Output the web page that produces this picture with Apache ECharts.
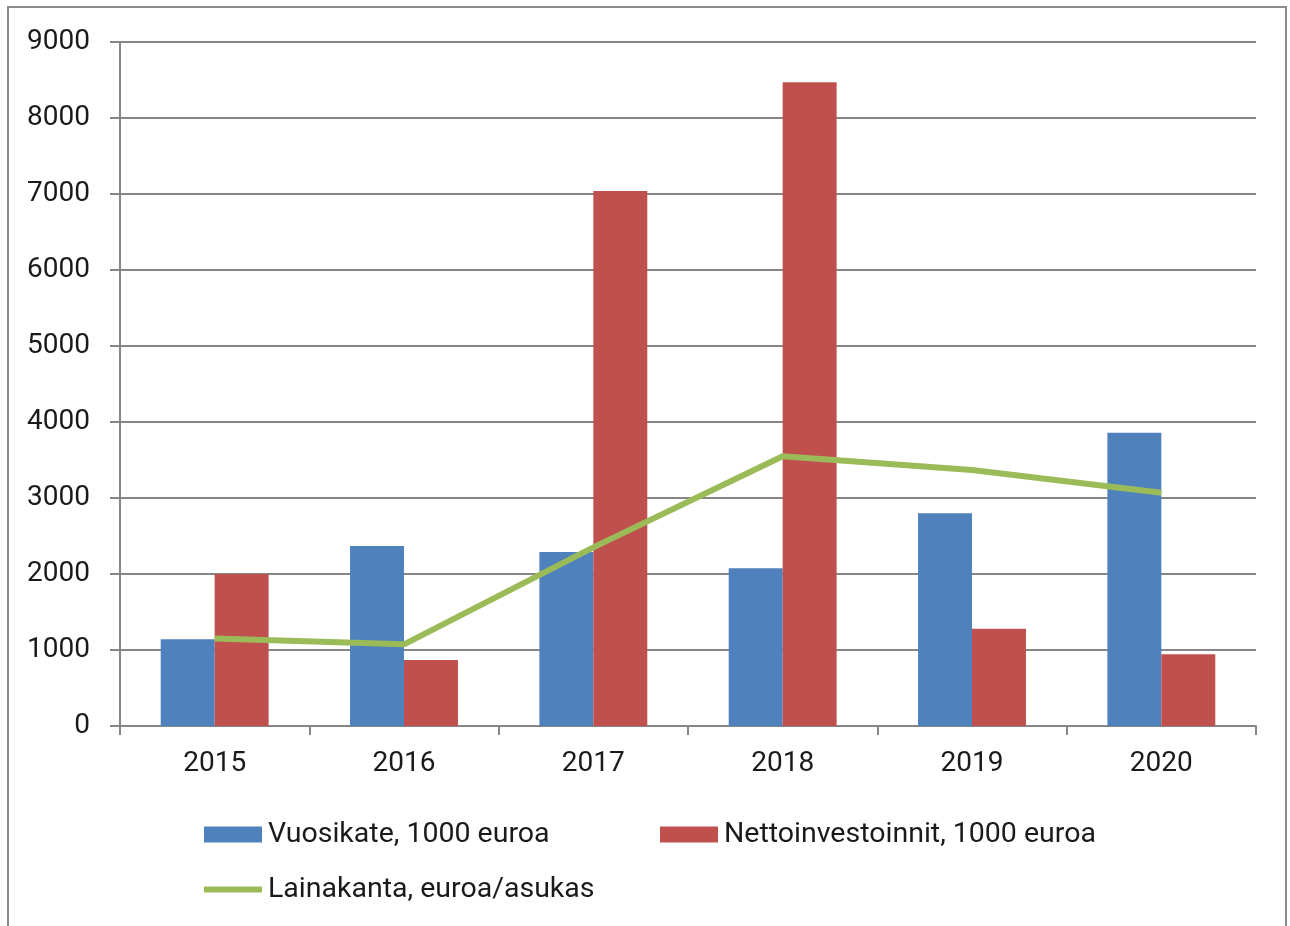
<!DOCTYPE html>
<html>
<head>
<meta charset="utf-8">
<script src="https://cdn.jsdelivr.net/npm/echarts@6/dist/echarts.min.js"></script>
<style>
html,body{margin:0;padding:0;background:#fff;}
#chart{width:1290px;height:926px;}
</style>
</head>
<body>
<div id="chart"></div>
<script>
const categories = ['2015', '2016', '2017', '2018', '2019', '2020'];
const vuosikate = [1140, 2370, 2290, 2075, 2800, 3860];
const nettoinvestoinnit = [2000, 870, 7040, 8470, 1280, 945];
const lainakanta = [1150, 1075, 2350, 3550, 3368, 3070];
const seriesNames = ['Vuosikate, 1000 euroa', 'Nettoinvestoinnit, 1000 euroa', 'Lainakanta, euroa/asukas'];

const FONT = 'Roboto';
const TXT = '#1a1a1a';
const GRID_GRAY = '#868686';

const chart = echarts.init(document.getElementById('chart'), null, {renderer: 'canvas'});
const legendText = {fontFamily: FONT, fontSize: 28.5, color: TXT, padding: [0, 0, 0, 1]};

chart.setOption({
  animation: false,
  backgroundColor: '#ffffff',
  graphic: [{
    type: 'rect',
    shape: {x: 8, y: 7, width: 1278, height: 940},
    style: {fill: 'none', stroke: '#8c8c8c', lineWidth: 2},
    silent: true
  }],
  grid: {left: 120, right: 34, top: 42, bottom: 200, containLabel: false},
  legend: [
    {data: [seriesNames[0]], left: 204, top: 820, padding: 0, itemWidth: 58, itemHeight: 16, itemGap: 0, textStyle: legendText, icon: 'rect'},
    {data: [seriesNames[1]], left: 660, top: 820, padding: 0, itemWidth: 58, itemHeight: 16, itemGap: 0, textStyle: legendText, icon: 'rect'},
    {data: [{name: seriesNames[2], icon: 'rect'}], left: 204, top: 875, padding: 0, itemWidth: 58, itemHeight: 6, itemGap: 0, textStyle: legendText}
  ],
  xAxis: {
    type: 'category',
    data: categories,
    boundaryGap: true,
    axisLine: {show: true, lineStyle: {color: GRID_GRAY, width: 2}},
    axisTick: {show: true, length: 9, lineStyle: {color: GRID_GRAY, width: 2}},
    axisLabel: {fontFamily: FONT, fontSize: 28, color: TXT, margin: 24}
  },
  yAxis: {
    type: 'value',
    min: 0,
    max: 9000,
    interval: 1000,
    axisLine: {show: true, lineStyle: {color: GRID_GRAY, width: 2}},
    axisTick: {show: true, length: 10, lineStyle: {color: GRID_GRAY, width: 2}},
    splitLine: {show: true, lineStyle: {color: GRID_GRAY, width: 2}},
    axisLabel: {fontFamily: FONT, fontSize: 28, color: TXT, margin: 30, formatter: v => String(v)}
  },
  series: [
    {
      name: seriesNames[0], type: 'bar', data: vuosikate,
      itemStyle: {color: '#4F81BD'},
      barGap: '0%', barCategoryGap: '43%'
    },
    {
      name: seriesNames[1], type: 'bar', data: nettoinvestoinnit,
      itemStyle: {color: '#C0504D'},
      barGap: '0%', barCategoryGap: '43%'
    },
    {
      name: seriesNames[2], type: 'line', data: lainakanta,
      itemStyle: {color: '#9BBB59'},
      lineStyle: {color: '#9BBB59', width: 6},
      showSymbol: false, symbol: 'none', z: 5
    }
  ]
});
</script>
</body>
</html>
